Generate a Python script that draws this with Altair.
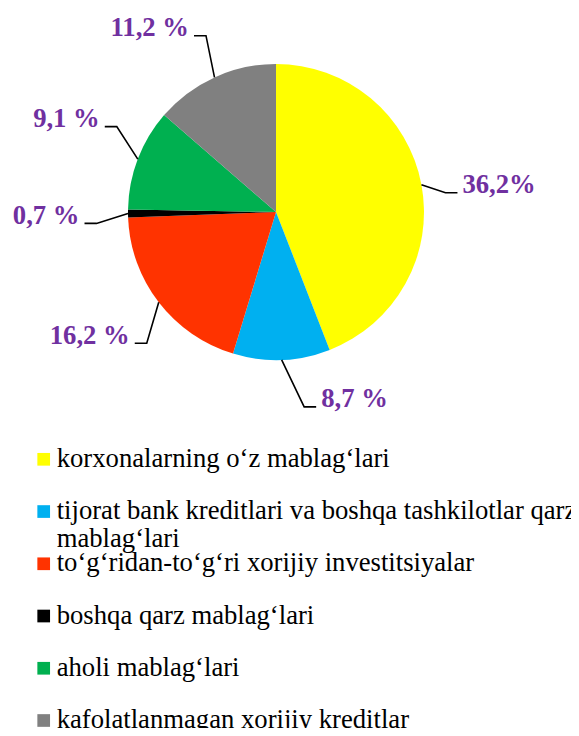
import math
import altair as alt
import pandas as pd

# ---------------- data ----------------
categories = [
    "korxonalarning o‘z mablag‘lari",
    "tijorat bank kreditlari va boshqa tashkilotlar qarz mablag‘lari",
    "to‘g‘ridan-to‘g‘ri xorijiy investitsiyalar",
    "boshqa qarz mablag‘lari",
    "aholi mablag‘lari",
    "kafolatlanmagan xorijiy kreditlar",
]
values = [36.2, 8.7, 16.2, 0.7, 9.1, 11.2]
value_labels = ["36,2%", "8,7 %", "16,2 %", "0,7 %", "9,1 %", "11,2 %"]
colors = ["#FFFF00", "#00B0F0", "#FF3300", "#000000", "#00B050", "#808080"]

# legend text as displayed (line breaks marked with "|")
legend_labels = [
    "korxonalarning o‘z mablag‘lari",
    "tijorat bank kreditlari va boshqa tashkilotlar qarz|mablag‘lari",
    "to‘g‘ridan-to‘g‘ri xorijiy investitsiyalar",
    "boshqa qarz mablag‘lari",
    "aholi mablag‘lari",
    "\u00a0kafolatlanmagan xorijiy kreditlar",
]

# ---------------- layout ----------------
W, H = 563, 720
CX, CY, R = 268, 204, 148
# elbow offset of each leader line from the slice edge (pixels)
leader_offsets = [(24, 8), (22.5, 47), (-12, 41), (-31.5, 10), (-21, -32.5), (-8.5, -41.7)]
leader_side = [1, 1, -1, -1, -1, -1]
SEG = 12
GAP = 5
LABEL_COLOR = "#7030A0"
SERIF = "Times New Roman, Liberation Serif, serif"

total = sum(values)
pie_df = pd.DataFrame({"idx": range(len(values)), "category": categories, "value": values})

line_rows, label_rows = [], []
cum = 0.0
for i, v in enumerate(values):
    mid = (cum + v / 2) / total * 2 * math.pi
    cum += v
    sx, sy = CX + R * math.sin(mid), CY - R * math.cos(mid)
    ex, ey = sx + leader_offsets[i][0], sy + leader_offsets[i][1]
    hx = ex + leader_side[i] * SEG
    for k, (px, py) in enumerate([(sx, sy), (ex, ey), (hx, ey)]):
        line_rows.append({"idx": i, "k": k, "px": px, "py": py})
    label_rows.append({
        "idx": i, "label": value_labels[i],
        "tx": hx + leader_side[i] * GAP, "ty": ey + 0.5,
        "side": "right" if leader_side[i] > 0 else "left",
    })
lines_df = pd.DataFrame(line_rows)
labels_df = pd.DataFrame(label_rows)
legend_df = pd.DataFrame({"idx": range(len(categories)), "category": categories, "legend": legend_labels})

color_scale = alt.Scale(domain=categories, range=colors)

pie = alt.Chart(pie_df).mark_arc(radius=R).encode(
    theta=alt.Theta("value:Q", stack=True),
    color=alt.Color("category:N", scale=color_scale, legend=None),
    order=alt.Order("idx:Q"),
    x=alt.value(CX),
    y=alt.value(CY),
)

leaders = alt.Chart(lines_df).mark_line(color="black", strokeWidth=1.6).encode(
    x=alt.X("px:Q", scale=None, axis=None),
    y=alt.Y("py:Q", scale=None, axis=None),
    detail="idx:N",
    order="k:Q",
)

def label_layer(side, align):
    return alt.Chart(labels_df).transform_filter(f"datum.side == '{side}'").mark_text(
        align=align, baseline="alphabetic", font=SERIF, fontWeight="bold",
        fontSize=26.67, color=LABEL_COLOR,
    ).encode(
        x=alt.X("tx:Q", scale=None, axis=None),
        y=alt.Y("ty:Q", scale=None, axis=None),
        text="label:N",
    )

labels_r = label_layer("right", "left")
labels_l = label_layer("left", "right")

leg_y = alt.Y("idx:Q", scale=alt.Scale(domain=[0, 5], range=[451.3, 712.5], nice=False, zero=False), axis=None)

leg_sq = alt.Chart(legend_df).mark_square(size=161, opacity=1, filled=True).encode(
    x=alt.value(35.7),
    y=leg_y,
    color=alt.Color("category:N", scale=color_scale, legend=None),
)

leg_txt = alt.Chart(legend_df).transform_calculate(
    lines="split(datum.legend, '|')"
).mark_text(
    align="left", baseline="alphabetic", font=SERIF, fontSize=26.67,
    lineHeight=28.3, dy=7.5, color="black",
).encode(
    x=alt.value(48.7),
    y=leg_y,
    text="lines:N",
)

chart = alt.layer(pie, leaders, labels_r, labels_l, leg_sq, leg_txt).resolve_scale(
    x="independent", y="independent"
).properties(
    width=W, height=H, padding=0, autosize=alt.AutoSizeParams(type="none"),
).configure_view(strokeWidth=0)

chart.save("out.html", embed_options={"renderer": "svg", "actions": False})
